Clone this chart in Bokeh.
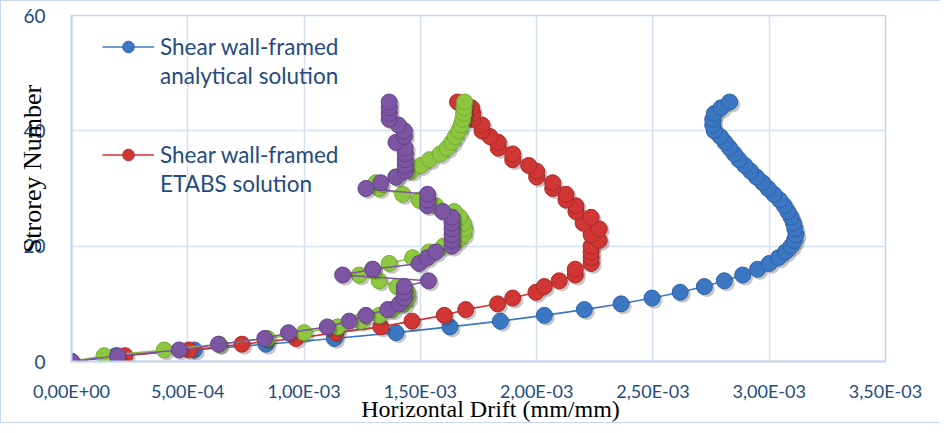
import numpy as np
from bokeh.plotting import figure
from bokeh.models import (Range1d, FixedTicker, CustomJSTickFormatter, Legend,
                          LegendItem, ColumnDataSource)
from bokeh.embed import file_html
from bokeh.resources import INLINE

# ---------------- data (drift in units of 1E-3 mm/mm) ----------------
storeys = list(range(46))

analytical_e3 = [0, 0.19, 0.528, 0.836, 1.13, 1.395, 1.627, 1.844, 2.033, 2.205,
                 2.363, 2.496, 2.617, 2.721, 2.807, 2.886, 2.95, 3.0, 3.04, 3.07,
                 3.094, 3.108, 3.115, 3.11, 3.104, 3.094, 3.08, 3.065, 3.045, 3.02,
                 2.995, 2.972, 2.945, 2.92, 2.895, 2.87, 2.85, 2.83, 2.81, 2.79,
                 2.764, 2.757, 2.757, 2.764, 2.793, 2.83]

etabs_e3 = [0, 0.23, 0.506, 0.733, 0.965, 1.137, 1.33, 1.464, 1.603, 1.695,
            1.832, 1.897, 1.997, 2.033, 2.097, 2.166, 2.166, 2.234, 2.234, 2.234,
            2.234, 2.269, 2.234, 2.269, 2.20, 2.234, 2.169, 2.169, 2.126, 2.126,
            2.069, 2.069, 2.0, 2.0, 1.966, 1.897, 1.897, 1.835, 1.835, 1.80,
            1.765, 1.765, 1.725, 1.725, 1.72, 1.66]

series3_e3 = [0, 0.14, 0.399, 0.635, 0.843, 1.0, 1.144, 1.244, 1.323, 1.38,
              1.43, 1.445, 1.445, 1.40, 1.323, 1.237, 1.295, 1.366, 1.467, 1.538,
              1.60, 1.66, 1.685, 1.69, 1.685, 1.67, 1.645, 1.567, 1.495, 1.424,
              1.323, 1.309, 1.395, 1.46, 1.503, 1.54, 1.585, 1.615, 1.635, 1.65,
              1.665, 1.675, 1.682, 1.686, 1.688, 1.69]

series4_e3 = [0, 0.198, 0.463, 0.632, 0.831, 0.933, 1.10, 1.194, 1.266, 1.36,
              1.41, 1.431, 1.431, 1.431, 1.535, 1.166, 1.295, 1.495, 1.531, 1.567,
              1.636, 1.636, 1.636, 1.636, 1.636, 1.636, 1.596, 1.531, 1.531, 1.531,
              1.266, 1.33, 1.395, 1.435, 1.435, 1.435, 1.435, 1.435, 1.395, 1.431,
              1.431, 1.406, 1.366, 1.366, 1.366, 1.366]

x_ticks = [0.0, 0.0005, 0.001, 0.0015, 0.002, 0.0025, 0.003, 0.0035]
x_tick_labels = ["0,00E+00", "5,00E-04", "1,00E-03", "1,50E-03",
                 "2,00E-03", "2,50E-03", "3,00E-03", "3,50E-03"]
y_ticks = [0, 20, 40, 60]

legend_lines = [["Shear wall-framed", "analytical solution"],
                ["Shear wall-framed", "ETABS solution"]]
x_title = "Horizontal Drift (mm/mm)"
y_title = "Strorey Number"

# ---------------- styling ----------------
TEXT_BLUE = "#244a80"
GRID = "#d3e1f3"
AXIS = "#c2d5ee"
colors = ["#3b77c3", "#cf3634", "#8dc63f", "#7c55a3"]
edges = ["#2f63a8", "#ad2a28", "#76ab33", "#65438a"]

W_FIG, H_FIG = 940, 423
ML, MT, MR = 70, 14, 56
FRAME_W = W_FIG - ML - MR
FRAME_H = 347
MB = H_FIG - MT - FRAME_H

X_MAX, Y_MAX = 0.0035, 60
NB = "\u00a0"

p = figure(width=W_FIG, height=H_FIG, output_backend="svg", toolbar_location=None,
           x_range=Range1d(0, X_MAX), y_range=Range1d(0, Y_MAX),
           min_border_left=ML, min_border_right=MR, min_border_top=MT,
           min_border_bottom=MB)
p.styles = {"border-top": "1px solid #c9d9ef", "border-left": "1px solid #c9d9ef",
            "border-bottom": "1px solid #c9d9ef"}

p.background_fill_color = "white"
p.border_fill_color = "white"
p.outline_line_color = AXIS
p.outline_line_width = 1.5

p.xgrid.grid_line_color = GRID
p.ygrid.grid_line_color = GRID
p.xgrid.grid_line_width = 1.5
p.ygrid.grid_line_width = 1.5

p.xaxis.ticker = FixedTicker(ticks=x_ticks)
p.yaxis.ticker = FixedTicker(ticks=y_ticks)
p.xaxis.formatter = CustomJSTickFormatter(args=dict(tvals=x_ticks, tlabels=x_tick_labels), code="""
let best = 0;
for (let i = 0; i < tvals.length; i++) {
  if (Math.abs(tvals[i] - tick) < Math.abs(tvals[best] - tick)) best = i;
}
return tlabels[best];
""")

for ax in (p.xaxis, p.yaxis):
    ax.axis_line_color = AXIS
    ax.axis_line_width = 2
    ax.major_tick_line_color = None
    ax.minor_tick_line_color = None
    ax.major_tick_in = 0
    ax.major_tick_out = 0
    ax.major_label_text_color = TEXT_BLUE
    ax.major_label_text_font = "Lato"
    ax.axis_label_text_font = "Liberation Serif"
    ax.axis_label_text_font_style = "normal"
    ax.axis_label_text_color = "black"
p.xaxis.major_label_text_font_size = "18px"
p.yaxis.major_label_text_font_size = "19px"
p.xaxis.major_label_standoff = 18
p.yaxis.major_label_standoff = 26

p.xaxis.axis_label = NB * 4 + x_title
p.xaxis.axis_label_text_font_size = "24px"
p.xaxis.axis_label_standoff = -9
p.yaxis.axis_label = NB * 6 + y_title
p.yaxis.axis_label_text_font_size = "26px"
p.yaxis.axis_label_standoff = -27

dx = 2.5 * X_MAX / FRAME_W
dy = -2.5 * Y_MAX / FRAME_H

all_series = [analytical_e3, etabs_e3, series3_e3, series4_e3]
legend_renderers = []
for vals, c, ec in zip(all_series, colors, edges):
    x = np.array(vals) * 1e-3
    y = np.array(storeys, dtype=float)
    src = ColumnDataSource(dict(x=x, y=y, xs=x + dx, ys=y + dy))
    lr = p.line("x", "y", source=src, line_color=c, line_width=1.6)
    p.scatter("xs", "ys", source=src, size=16, fill_color="#333333", fill_alpha=0.28,
              line_color=None)
    sr = p.scatter("x", "y", source=src, size=16, fill_color=c, line_color=ec,
                   line_width=1)
    legend_renderers.append([lr, sr])

# two legend blocks, each entry written over two lines
legend_bottoms = [271, 163]
for i in range(2):
    items = [LegendItem(label=legend_lines[i][0], renderers=legend_renderers[i]),
             LegendItem(label=legend_lines[i][1], renderers=[])]
    lg = Legend(items=items, location=(31, legend_bottoms[i]), orientation="vertical",
                background_fill_alpha=0, border_line_color=None,
                label_text_font="Lato", label_text_font_size="22.5px",
                label_text_color=TEXT_BLUE, label_height=29,
                glyph_width=52, glyph_height=29, label_standoff=6,
                spacing=0, padding=0, margin=0)
    p.add_layout(lg)

open("out.html", "w").write(file_html(p, INLINE))
